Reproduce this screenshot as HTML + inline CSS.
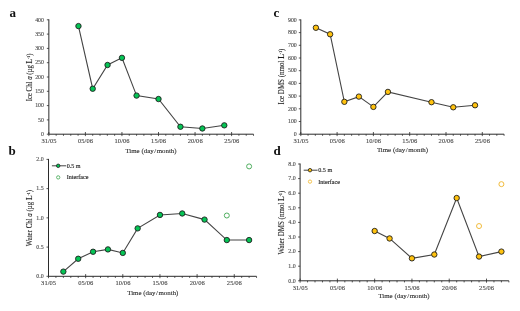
<!DOCTYPE html>
<html><head><meta charset="utf-8"><title>Figure</title>
<style>
html,body{margin:0;padding:0;background:#fff;}
body{width:520px;height:311px;overflow:hidden;}
svg{display:block;will-change:transform;}
text{font-family:"Liberation Serif", serif;fill:#222;}
.yl{stroke:#333;stroke-width:0.1px;}
.lg{stroke:#333;stroke-width:0.15px;}
.ti{stroke:#444;stroke-width:0.1px;}
.tk,.tx{stroke:#555;stroke-width:0.12px;}
.tk{font-size:6.7px;fill:#444;}
.ti{font-size:6.9px;fill:#1a1a1a;}
.yl{fill:#1a1a1a;}
.lg{font-size:6.1px;fill:#222;}
.tx{font-size:6.5px;fill:#444;letter-spacing:0.05px;}
.pl{font-size:13px;font-weight:bold;fill:#111;}
</style></head>
<body>
<svg width="520" height="311" viewBox="0 0 520 311">
<rect width="520" height="311" fill="#fff"/>
<text x="9.6" y="16.8" class="pl">a</text>
<line x1="48.85" y1="19.3" x2="48.85" y2="134.2" stroke="#2b2b2b" stroke-width="1"/>
<line x1="48.85" y1="134.2" x2="253.53" y2="134.2" stroke="#2b2b2b" stroke-width="1"/>
<line x1="46.85" y1="134.2" x2="48.85" y2="134.2" stroke="#2b2b2b" stroke-width="0.8"/>
<text transform="translate(44,135.95) scale(0.88,1)" class="tk" text-anchor="end">0</text>
<line x1="46.85" y1="119.9" x2="48.85" y2="119.9" stroke="#2b2b2b" stroke-width="0.8"/>
<text transform="translate(44,121.65) scale(0.88,1)" class="tk" text-anchor="end">50</text>
<line x1="46.85" y1="105.6" x2="48.85" y2="105.6" stroke="#2b2b2b" stroke-width="0.8"/>
<text transform="translate(44,107.35) scale(0.88,1)" class="tk" text-anchor="end">100</text>
<line x1="46.85" y1="91.3" x2="48.85" y2="91.3" stroke="#2b2b2b" stroke-width="0.8"/>
<text transform="translate(44,93.05) scale(0.88,1)" class="tk" text-anchor="end">150</text>
<line x1="46.85" y1="77" x2="48.85" y2="77" stroke="#2b2b2b" stroke-width="0.8"/>
<text transform="translate(44,78.75) scale(0.88,1)" class="tk" text-anchor="end">200</text>
<line x1="46.85" y1="62.7" x2="48.85" y2="62.7" stroke="#2b2b2b" stroke-width="0.8"/>
<text transform="translate(44,64.45) scale(0.88,1)" class="tk" text-anchor="end">250</text>
<line x1="46.85" y1="48.4" x2="48.85" y2="48.4" stroke="#2b2b2b" stroke-width="0.8"/>
<text transform="translate(44,50.15) scale(0.88,1)" class="tk" text-anchor="end">300</text>
<line x1="46.85" y1="34.1" x2="48.85" y2="34.1" stroke="#2b2b2b" stroke-width="0.8"/>
<text transform="translate(44,35.85) scale(0.88,1)" class="tk" text-anchor="end">350</text>
<line x1="46.85" y1="19.8" x2="48.85" y2="19.8" stroke="#2b2b2b" stroke-width="0.8"/>
<text transform="translate(44,21.55) scale(0.88,1)" class="tk" text-anchor="end">400</text>
<line x1="48.85" y1="132" x2="48.85" y2="136.1" stroke="#2b2b2b" stroke-width="0.8"/>
<text x="49" y="143.4" class="tx" text-anchor="middle">31/05</text>
<line x1="56.16" y1="134.2" x2="56.16" y2="135.8" stroke="#2b2b2b" stroke-width="0.8"/>
<line x1="63.47" y1="134.2" x2="63.47" y2="135.8" stroke="#2b2b2b" stroke-width="0.8"/>
<line x1="70.78" y1="134.2" x2="70.78" y2="135.8" stroke="#2b2b2b" stroke-width="0.8"/>
<line x1="78.09" y1="134.2" x2="78.09" y2="135.8" stroke="#2b2b2b" stroke-width="0.8"/>
<line x1="85.4" y1="132" x2="85.4" y2="136.1" stroke="#2b2b2b" stroke-width="0.8"/>
<text x="85.55" y="143.4" class="tx" text-anchor="middle">05/06</text>
<line x1="92.71" y1="134.2" x2="92.71" y2="135.8" stroke="#2b2b2b" stroke-width="0.8"/>
<line x1="100.02" y1="134.2" x2="100.02" y2="135.8" stroke="#2b2b2b" stroke-width="0.8"/>
<line x1="107.33" y1="134.2" x2="107.33" y2="135.8" stroke="#2b2b2b" stroke-width="0.8"/>
<line x1="114.64" y1="134.2" x2="114.64" y2="135.8" stroke="#2b2b2b" stroke-width="0.8"/>
<line x1="121.95" y1="132" x2="121.95" y2="136.1" stroke="#2b2b2b" stroke-width="0.8"/>
<text x="122.1" y="143.4" class="tx" text-anchor="middle">10/06</text>
<line x1="129.26" y1="134.2" x2="129.26" y2="135.8" stroke="#2b2b2b" stroke-width="0.8"/>
<line x1="136.57" y1="134.2" x2="136.57" y2="135.8" stroke="#2b2b2b" stroke-width="0.8"/>
<line x1="143.88" y1="134.2" x2="143.88" y2="135.8" stroke="#2b2b2b" stroke-width="0.8"/>
<line x1="151.19" y1="134.2" x2="151.19" y2="135.8" stroke="#2b2b2b" stroke-width="0.8"/>
<line x1="158.5" y1="132" x2="158.5" y2="136.1" stroke="#2b2b2b" stroke-width="0.8"/>
<text x="158.65" y="143.4" class="tx" text-anchor="middle">15/06</text>
<line x1="165.81" y1="134.2" x2="165.81" y2="135.8" stroke="#2b2b2b" stroke-width="0.8"/>
<line x1="173.12" y1="134.2" x2="173.12" y2="135.8" stroke="#2b2b2b" stroke-width="0.8"/>
<line x1="180.43" y1="134.2" x2="180.43" y2="135.8" stroke="#2b2b2b" stroke-width="0.8"/>
<line x1="187.74" y1="134.2" x2="187.74" y2="135.8" stroke="#2b2b2b" stroke-width="0.8"/>
<line x1="195.05" y1="132" x2="195.05" y2="136.1" stroke="#2b2b2b" stroke-width="0.8"/>
<text x="195.2" y="143.4" class="tx" text-anchor="middle">20/06</text>
<line x1="202.36" y1="134.2" x2="202.36" y2="135.8" stroke="#2b2b2b" stroke-width="0.8"/>
<line x1="209.67" y1="134.2" x2="209.67" y2="135.8" stroke="#2b2b2b" stroke-width="0.8"/>
<line x1="216.98" y1="134.2" x2="216.98" y2="135.8" stroke="#2b2b2b" stroke-width="0.8"/>
<line x1="224.29" y1="134.2" x2="224.29" y2="135.8" stroke="#2b2b2b" stroke-width="0.8"/>
<line x1="231.6" y1="132" x2="231.6" y2="136.1" stroke="#2b2b2b" stroke-width="0.8"/>
<text x="231.75" y="143.4" class="tx" text-anchor="middle">25/06</text>
<line x1="238.91" y1="134.2" x2="238.91" y2="135.8" stroke="#2b2b2b" stroke-width="0.8"/>
<line x1="246.22" y1="134.2" x2="246.22" y2="135.8" stroke="#2b2b2b" stroke-width="0.8"/>
<line x1="253.53" y1="134.2" x2="253.53" y2="135.8" stroke="#2b2b2b" stroke-width="0.8"/>
<text x="151" y="152.6" class="ti" text-anchor="middle">Time (day&#8202;/&#8202;month)</text>
<polyline points="78.46,26.09 92.71,88.73 107.55,64.99 121.95,57.84 136.57,95.59 158.5,99.02 180.43,126.76 202.36,128.48 224.29,125.33" fill="none" stroke="#444444" stroke-width="1.1"/>
<circle cx="78.46" cy="26.09" r="2.7" fill="#05c455" stroke="#1e1e1e" stroke-width="0.9"/>
<circle cx="92.71" cy="88.73" r="2.7" fill="#05c455" stroke="#1e1e1e" stroke-width="0.9"/>
<circle cx="107.55" cy="64.99" r="2.7" fill="#05c455" stroke="#1e1e1e" stroke-width="0.9"/>
<circle cx="121.95" cy="57.84" r="2.7" fill="#05c455" stroke="#1e1e1e" stroke-width="0.9"/>
<circle cx="136.57" cy="95.59" r="2.7" fill="#05c455" stroke="#1e1e1e" stroke-width="0.9"/>
<circle cx="158.5" cy="99.02" r="2.7" fill="#05c455" stroke="#1e1e1e" stroke-width="0.9"/>
<circle cx="180.43" cy="126.76" r="2.7" fill="#05c455" stroke="#1e1e1e" stroke-width="0.9"/>
<circle cx="202.36" cy="128.48" r="2.7" fill="#05c455" stroke="#1e1e1e" stroke-width="0.9"/>
<circle cx="224.29" cy="125.33" r="2.7" fill="#05c455" stroke="#1e1e1e" stroke-width="0.9"/>
<text transform="translate(31.8,77.4) rotate(-90) scale(0.87,1)" class="yl" text-anchor="middle" font-size="7.82">Ice Chl <tspan font-style="italic">a</tspan> (µg <tspan font-weight="bold">L</tspan><tspan dy="-2" font-size="4.5">-1</tspan><tspan dy="2">)</tspan></text>
<text x="8.6" y="155.2" class="pl">b</text>
<line x1="48.5" y1="158.9" x2="48.5" y2="276.3" stroke="#2b2b2b" stroke-width="1"/>
<line x1="48.5" y1="276.3" x2="256.54" y2="276.3" stroke="#2b2b2b" stroke-width="1"/>
<line x1="46.5" y1="276.3" x2="48.5" y2="276.3" stroke="#2b2b2b" stroke-width="0.8"/>
<text transform="translate(43.6,278.05) scale(0.88,1)" class="tk" text-anchor="end">0.0</text>
<line x1="46.5" y1="247.08" x2="48.5" y2="247.08" stroke="#2b2b2b" stroke-width="0.8"/>
<text transform="translate(43.6,248.83) scale(0.88,1)" class="tk" text-anchor="end">0.5</text>
<line x1="46.5" y1="217.85" x2="48.5" y2="217.85" stroke="#2b2b2b" stroke-width="0.8"/>
<text transform="translate(43.6,219.6) scale(0.88,1)" class="tk" text-anchor="end">1.0</text>
<line x1="46.5" y1="188.62" x2="48.5" y2="188.62" stroke="#2b2b2b" stroke-width="0.8"/>
<text transform="translate(43.6,190.38) scale(0.88,1)" class="tk" text-anchor="end">1.5</text>
<line x1="46.5" y1="159.4" x2="48.5" y2="159.4" stroke="#2b2b2b" stroke-width="0.8"/>
<text transform="translate(43.6,161.15) scale(0.88,1)" class="tk" text-anchor="end">2.0</text>
<line x1="48.5" y1="274.1" x2="48.5" y2="278.2" stroke="#2b2b2b" stroke-width="0.8"/>
<text x="48.65" y="285.2" class="tx" text-anchor="middle">31/05</text>
<line x1="55.93" y1="276.3" x2="55.93" y2="277.9" stroke="#2b2b2b" stroke-width="0.8"/>
<line x1="63.36" y1="276.3" x2="63.36" y2="277.9" stroke="#2b2b2b" stroke-width="0.8"/>
<line x1="70.79" y1="276.3" x2="70.79" y2="277.9" stroke="#2b2b2b" stroke-width="0.8"/>
<line x1="78.22" y1="276.3" x2="78.22" y2="277.9" stroke="#2b2b2b" stroke-width="0.8"/>
<line x1="85.65" y1="274.1" x2="85.65" y2="278.2" stroke="#2b2b2b" stroke-width="0.8"/>
<text x="85.8" y="285.2" class="tx" text-anchor="middle">05/06</text>
<line x1="93.08" y1="276.3" x2="93.08" y2="277.9" stroke="#2b2b2b" stroke-width="0.8"/>
<line x1="100.51" y1="276.3" x2="100.51" y2="277.9" stroke="#2b2b2b" stroke-width="0.8"/>
<line x1="107.94" y1="276.3" x2="107.94" y2="277.9" stroke="#2b2b2b" stroke-width="0.8"/>
<line x1="115.37" y1="276.3" x2="115.37" y2="277.9" stroke="#2b2b2b" stroke-width="0.8"/>
<line x1="122.8" y1="274.1" x2="122.8" y2="278.2" stroke="#2b2b2b" stroke-width="0.8"/>
<text x="122.95" y="285.2" class="tx" text-anchor="middle">10/06</text>
<line x1="130.23" y1="276.3" x2="130.23" y2="277.9" stroke="#2b2b2b" stroke-width="0.8"/>
<line x1="137.66" y1="276.3" x2="137.66" y2="277.9" stroke="#2b2b2b" stroke-width="0.8"/>
<line x1="145.09" y1="276.3" x2="145.09" y2="277.9" stroke="#2b2b2b" stroke-width="0.8"/>
<line x1="152.52" y1="276.3" x2="152.52" y2="277.9" stroke="#2b2b2b" stroke-width="0.8"/>
<line x1="159.95" y1="274.1" x2="159.95" y2="278.2" stroke="#2b2b2b" stroke-width="0.8"/>
<text x="160.1" y="285.2" class="tx" text-anchor="middle">15/06</text>
<line x1="167.38" y1="276.3" x2="167.38" y2="277.9" stroke="#2b2b2b" stroke-width="0.8"/>
<line x1="174.81" y1="276.3" x2="174.81" y2="277.9" stroke="#2b2b2b" stroke-width="0.8"/>
<line x1="182.24" y1="276.3" x2="182.24" y2="277.9" stroke="#2b2b2b" stroke-width="0.8"/>
<line x1="189.67" y1="276.3" x2="189.67" y2="277.9" stroke="#2b2b2b" stroke-width="0.8"/>
<line x1="197.1" y1="274.1" x2="197.1" y2="278.2" stroke="#2b2b2b" stroke-width="0.8"/>
<text x="197.25" y="285.2" class="tx" text-anchor="middle">20/06</text>
<line x1="204.53" y1="276.3" x2="204.53" y2="277.9" stroke="#2b2b2b" stroke-width="0.8"/>
<line x1="211.96" y1="276.3" x2="211.96" y2="277.9" stroke="#2b2b2b" stroke-width="0.8"/>
<line x1="219.39" y1="276.3" x2="219.39" y2="277.9" stroke="#2b2b2b" stroke-width="0.8"/>
<line x1="226.82" y1="276.3" x2="226.82" y2="277.9" stroke="#2b2b2b" stroke-width="0.8"/>
<line x1="234.25" y1="274.1" x2="234.25" y2="278.2" stroke="#2b2b2b" stroke-width="0.8"/>
<text x="234.4" y="285.2" class="tx" text-anchor="middle">25/06</text>
<line x1="241.68" y1="276.3" x2="241.68" y2="277.9" stroke="#2b2b2b" stroke-width="0.8"/>
<line x1="249.11" y1="276.3" x2="249.11" y2="277.9" stroke="#2b2b2b" stroke-width="0.8"/>
<line x1="256.54" y1="276.3" x2="256.54" y2="277.9" stroke="#2b2b2b" stroke-width="0.8"/>
<text x="152.8" y="294.6" class="ti" text-anchor="middle">Time (day&#8202;/&#8202;month)</text>
<polyline points="63.36,271.62 78.22,258.76 93.08,251.75 107.94,249.41 122.8,252.92 137.66,228.37 159.95,214.93 182.24,213.47 204.53,219.6 226.82,240.06 249.11,240.06" fill="none" stroke="#444444" stroke-width="1.1"/>
<circle cx="63.36" cy="271.62" r="2.7" fill="#05c455" stroke="#1e1e1e" stroke-width="0.9"/>
<circle cx="78.22" cy="258.76" r="2.7" fill="#05c455" stroke="#1e1e1e" stroke-width="0.9"/>
<circle cx="93.08" cy="251.75" r="2.7" fill="#05c455" stroke="#1e1e1e" stroke-width="0.9"/>
<circle cx="107.94" cy="249.41" r="2.7" fill="#05c455" stroke="#1e1e1e" stroke-width="0.9"/>
<circle cx="122.8" cy="252.92" r="2.7" fill="#05c455" stroke="#1e1e1e" stroke-width="0.9"/>
<circle cx="137.66" cy="228.37" r="2.7" fill="#05c455" stroke="#1e1e1e" stroke-width="0.9"/>
<circle cx="159.95" cy="214.93" r="2.7" fill="#05c455" stroke="#1e1e1e" stroke-width="0.9"/>
<circle cx="182.24" cy="213.47" r="2.7" fill="#05c455" stroke="#1e1e1e" stroke-width="0.9"/>
<circle cx="204.53" cy="219.6" r="2.7" fill="#05c455" stroke="#1e1e1e" stroke-width="0.9"/>
<circle cx="226.82" cy="240.06" r="2.7" fill="#05c455" stroke="#1e1e1e" stroke-width="0.9"/>
<circle cx="249.11" cy="240.06" r="2.7" fill="#05c455" stroke="#1e1e1e" stroke-width="0.9"/>
<circle cx="226.82" cy="215.51" r="2.5" fill="none" stroke="#4fae5f" stroke-width="1"/>
<circle cx="249.11" cy="166.41" r="2.5" fill="none" stroke="#4fae5f" stroke-width="1"/>
<line x1="51.9" y1="165.8" x2="66.2" y2="165.8" stroke="#444444" stroke-width="1"/>
<circle cx="58.2" cy="165.8" r="1.75" fill="#05c455" stroke="#1e1e1e" stroke-width="0.8"/>
<text x="66.7" y="167.8" class="lg">0.5 m</text>
<circle cx="58.2" cy="177.4" r="1.65" fill="none" stroke="#4fae5f" stroke-width="0.9"/>
<text x="66.7" y="179.4" class="lg">Interface</text>
<text transform="translate(32.2,218.1) rotate(-90) scale(0.87,1)" class="yl" text-anchor="middle" font-size="7.93">Water Chl <tspan font-style="italic">a</tspan> (µg <tspan font-weight="bold">L</tspan><tspan dy="-2" font-size="4.5">-1</tspan><tspan dy="2">)</tspan></text>
<text x="273.6" y="16.8" class="pl">c</text>
<line x1="300.8" y1="19.4" x2="300.8" y2="134.2" stroke="#2b2b2b" stroke-width="1"/>
<line x1="300.8" y1="134.2" x2="504.08" y2="134.2" stroke="#2b2b2b" stroke-width="1"/>
<line x1="298.8" y1="134.2" x2="300.8" y2="134.2" stroke="#2b2b2b" stroke-width="0.8"/>
<text transform="translate(296.8,135.95) scale(0.88,1)" class="tk" text-anchor="end">0</text>
<line x1="298.8" y1="121.5" x2="300.8" y2="121.5" stroke="#2b2b2b" stroke-width="0.8"/>
<text transform="translate(296.8,123.25) scale(0.88,1)" class="tk" text-anchor="end">100</text>
<line x1="298.8" y1="108.8" x2="300.8" y2="108.8" stroke="#2b2b2b" stroke-width="0.8"/>
<text transform="translate(296.8,110.55) scale(0.88,1)" class="tk" text-anchor="end">200</text>
<line x1="298.8" y1="96.1" x2="300.8" y2="96.1" stroke="#2b2b2b" stroke-width="0.8"/>
<text transform="translate(296.8,97.85) scale(0.88,1)" class="tk" text-anchor="end">300</text>
<line x1="298.8" y1="83.4" x2="300.8" y2="83.4" stroke="#2b2b2b" stroke-width="0.8"/>
<text transform="translate(296.8,85.15) scale(0.88,1)" class="tk" text-anchor="end">400</text>
<line x1="298.8" y1="70.7" x2="300.8" y2="70.7" stroke="#2b2b2b" stroke-width="0.8"/>
<text transform="translate(296.8,72.45) scale(0.88,1)" class="tk" text-anchor="end">500</text>
<line x1="298.8" y1="58" x2="300.8" y2="58" stroke="#2b2b2b" stroke-width="0.8"/>
<text transform="translate(296.8,59.75) scale(0.88,1)" class="tk" text-anchor="end">600</text>
<line x1="298.8" y1="45.3" x2="300.8" y2="45.3" stroke="#2b2b2b" stroke-width="0.8"/>
<text transform="translate(296.8,47.05) scale(0.88,1)" class="tk" text-anchor="end">700</text>
<line x1="298.8" y1="32.6" x2="300.8" y2="32.6" stroke="#2b2b2b" stroke-width="0.8"/>
<text transform="translate(296.8,34.35) scale(0.88,1)" class="tk" text-anchor="end">800</text>
<line x1="298.8" y1="19.9" x2="300.8" y2="19.9" stroke="#2b2b2b" stroke-width="0.8"/>
<text transform="translate(296.8,21.65) scale(0.88,1)" class="tk" text-anchor="end">900</text>
<line x1="300.8" y1="132" x2="300.8" y2="136.1" stroke="#2b2b2b" stroke-width="0.8"/>
<text x="300.95" y="143.4" class="tx" text-anchor="middle">31/05</text>
<line x1="308.06" y1="134.2" x2="308.06" y2="135.8" stroke="#2b2b2b" stroke-width="0.8"/>
<line x1="315.32" y1="134.2" x2="315.32" y2="135.8" stroke="#2b2b2b" stroke-width="0.8"/>
<line x1="322.58" y1="134.2" x2="322.58" y2="135.8" stroke="#2b2b2b" stroke-width="0.8"/>
<line x1="329.84" y1="134.2" x2="329.84" y2="135.8" stroke="#2b2b2b" stroke-width="0.8"/>
<line x1="337.1" y1="132" x2="337.1" y2="136.1" stroke="#2b2b2b" stroke-width="0.8"/>
<text x="337.25" y="143.4" class="tx" text-anchor="middle">05/06</text>
<line x1="344.36" y1="134.2" x2="344.36" y2="135.8" stroke="#2b2b2b" stroke-width="0.8"/>
<line x1="351.62" y1="134.2" x2="351.62" y2="135.8" stroke="#2b2b2b" stroke-width="0.8"/>
<line x1="358.88" y1="134.2" x2="358.88" y2="135.8" stroke="#2b2b2b" stroke-width="0.8"/>
<line x1="366.14" y1="134.2" x2="366.14" y2="135.8" stroke="#2b2b2b" stroke-width="0.8"/>
<line x1="373.4" y1="132" x2="373.4" y2="136.1" stroke="#2b2b2b" stroke-width="0.8"/>
<text x="373.55" y="143.4" class="tx" text-anchor="middle">10/06</text>
<line x1="380.66" y1="134.2" x2="380.66" y2="135.8" stroke="#2b2b2b" stroke-width="0.8"/>
<line x1="387.92" y1="134.2" x2="387.92" y2="135.8" stroke="#2b2b2b" stroke-width="0.8"/>
<line x1="395.18" y1="134.2" x2="395.18" y2="135.8" stroke="#2b2b2b" stroke-width="0.8"/>
<line x1="402.44" y1="134.2" x2="402.44" y2="135.8" stroke="#2b2b2b" stroke-width="0.8"/>
<line x1="409.7" y1="132" x2="409.7" y2="136.1" stroke="#2b2b2b" stroke-width="0.8"/>
<text x="409.85" y="143.4" class="tx" text-anchor="middle">15/06</text>
<line x1="416.96" y1="134.2" x2="416.96" y2="135.8" stroke="#2b2b2b" stroke-width="0.8"/>
<line x1="424.22" y1="134.2" x2="424.22" y2="135.8" stroke="#2b2b2b" stroke-width="0.8"/>
<line x1="431.48" y1="134.2" x2="431.48" y2="135.8" stroke="#2b2b2b" stroke-width="0.8"/>
<line x1="438.74" y1="134.2" x2="438.74" y2="135.8" stroke="#2b2b2b" stroke-width="0.8"/>
<line x1="446" y1="132" x2="446" y2="136.1" stroke="#2b2b2b" stroke-width="0.8"/>
<text x="446.15" y="143.4" class="tx" text-anchor="middle">20/06</text>
<line x1="453.26" y1="134.2" x2="453.26" y2="135.8" stroke="#2b2b2b" stroke-width="0.8"/>
<line x1="460.52" y1="134.2" x2="460.52" y2="135.8" stroke="#2b2b2b" stroke-width="0.8"/>
<line x1="467.78" y1="134.2" x2="467.78" y2="135.8" stroke="#2b2b2b" stroke-width="0.8"/>
<line x1="475.04" y1="134.2" x2="475.04" y2="135.8" stroke="#2b2b2b" stroke-width="0.8"/>
<line x1="482.3" y1="132" x2="482.3" y2="136.1" stroke="#2b2b2b" stroke-width="0.8"/>
<text x="482.45" y="143.4" class="tx" text-anchor="middle">25/06</text>
<line x1="489.56" y1="134.2" x2="489.56" y2="135.8" stroke="#2b2b2b" stroke-width="0.8"/>
<line x1="496.82" y1="134.2" x2="496.82" y2="135.8" stroke="#2b2b2b" stroke-width="0.8"/>
<line x1="504.08" y1="134.2" x2="504.08" y2="135.8" stroke="#2b2b2b" stroke-width="0.8"/>
<text x="402.5" y="152.3" class="ti" text-anchor="middle">Time (day&#8202;/&#8202;month)</text>
<polyline points="315.9,27.77 330.13,34.25 344.36,101.81 358.88,96.61 373.4,106.89 387.92,91.91 431.48,102.2 453.26,107.28 475.04,105.24" fill="none" stroke="#444444" stroke-width="1.1"/>
<circle cx="315.9" cy="27.77" r="2.7" fill="#ffc20e" stroke="#1e1e1e" stroke-width="0.9"/>
<circle cx="330.13" cy="34.25" r="2.7" fill="#ffc20e" stroke="#1e1e1e" stroke-width="0.9"/>
<circle cx="344.36" cy="101.81" r="2.7" fill="#ffc20e" stroke="#1e1e1e" stroke-width="0.9"/>
<circle cx="358.88" cy="96.61" r="2.7" fill="#ffc20e" stroke="#1e1e1e" stroke-width="0.9"/>
<circle cx="373.4" cy="106.89" r="2.7" fill="#ffc20e" stroke="#1e1e1e" stroke-width="0.9"/>
<circle cx="387.92" cy="91.91" r="2.7" fill="#ffc20e" stroke="#1e1e1e" stroke-width="0.9"/>
<circle cx="431.48" cy="102.2" r="2.7" fill="#ffc20e" stroke="#1e1e1e" stroke-width="0.9"/>
<circle cx="453.26" cy="107.28" r="2.7" fill="#ffc20e" stroke="#1e1e1e" stroke-width="0.9"/>
<circle cx="475.04" cy="105.24" r="2.7" fill="#ffc20e" stroke="#1e1e1e" stroke-width="0.9"/>
<text transform="translate(284.4,76.5) rotate(-90) scale(0.87,1)" class="yl" text-anchor="middle" font-size="8.05">Ice DMS (nmol <tspan font-weight="bold">L</tspan><tspan dy="-2" font-size="4.5">-1</tspan><tspan dy="2">)</tspan></text>
<text x="273.4" y="154.9" class="pl">d</text>
<line x1="300.1" y1="163.5" x2="300.1" y2="280.8" stroke="#2b2b2b" stroke-width="1"/>
<line x1="300.1" y1="280.8" x2="508.87" y2="280.8" stroke="#2b2b2b" stroke-width="1"/>
<line x1="298.1" y1="280.8" x2="300.1" y2="280.8" stroke="#2b2b2b" stroke-width="0.8"/>
<text transform="translate(295.6,282.55) scale(0.88,1)" class="tk" text-anchor="end">0.0</text>
<line x1="298.1" y1="266.2" x2="300.1" y2="266.2" stroke="#2b2b2b" stroke-width="0.8"/>
<text transform="translate(295.6,267.95) scale(0.88,1)" class="tk" text-anchor="end">1.0</text>
<line x1="298.1" y1="251.6" x2="300.1" y2="251.6" stroke="#2b2b2b" stroke-width="0.8"/>
<text transform="translate(295.6,253.35) scale(0.88,1)" class="tk" text-anchor="end">2.0</text>
<line x1="298.1" y1="237" x2="300.1" y2="237" stroke="#2b2b2b" stroke-width="0.8"/>
<text transform="translate(295.6,238.75) scale(0.88,1)" class="tk" text-anchor="end">3.0</text>
<line x1="298.1" y1="222.4" x2="300.1" y2="222.4" stroke="#2b2b2b" stroke-width="0.8"/>
<text transform="translate(295.6,224.15) scale(0.88,1)" class="tk" text-anchor="end">4.0</text>
<line x1="298.1" y1="207.8" x2="300.1" y2="207.8" stroke="#2b2b2b" stroke-width="0.8"/>
<text transform="translate(295.6,209.55) scale(0.88,1)" class="tk" text-anchor="end">5.0</text>
<line x1="298.1" y1="193.2" x2="300.1" y2="193.2" stroke="#2b2b2b" stroke-width="0.8"/>
<text transform="translate(295.6,194.95) scale(0.88,1)" class="tk" text-anchor="end">6.0</text>
<line x1="298.1" y1="178.6" x2="300.1" y2="178.6" stroke="#2b2b2b" stroke-width="0.8"/>
<text transform="translate(295.6,180.35) scale(0.88,1)" class="tk" text-anchor="end">7.0</text>
<line x1="298.1" y1="164" x2="300.1" y2="164" stroke="#2b2b2b" stroke-width="0.8"/>
<text transform="translate(295.6,165.75) scale(0.88,1)" class="tk" text-anchor="end">8.0</text>
<line x1="300.1" y1="278.6" x2="300.1" y2="282.7" stroke="#2b2b2b" stroke-width="0.8"/>
<text x="300.25" y="289.6" class="tx" text-anchor="middle">31/05</text>
<line x1="307.56" y1="280.8" x2="307.56" y2="282.4" stroke="#2b2b2b" stroke-width="0.8"/>
<line x1="315.01" y1="280.8" x2="315.01" y2="282.4" stroke="#2b2b2b" stroke-width="0.8"/>
<line x1="322.47" y1="280.8" x2="322.47" y2="282.4" stroke="#2b2b2b" stroke-width="0.8"/>
<line x1="329.92" y1="280.8" x2="329.92" y2="282.4" stroke="#2b2b2b" stroke-width="0.8"/>
<line x1="337.38" y1="278.6" x2="337.38" y2="282.7" stroke="#2b2b2b" stroke-width="0.8"/>
<text x="337.53" y="289.6" class="tx" text-anchor="middle">05/06</text>
<line x1="344.84" y1="280.8" x2="344.84" y2="282.4" stroke="#2b2b2b" stroke-width="0.8"/>
<line x1="352.29" y1="280.8" x2="352.29" y2="282.4" stroke="#2b2b2b" stroke-width="0.8"/>
<line x1="359.75" y1="280.8" x2="359.75" y2="282.4" stroke="#2b2b2b" stroke-width="0.8"/>
<line x1="367.2" y1="280.8" x2="367.2" y2="282.4" stroke="#2b2b2b" stroke-width="0.8"/>
<line x1="374.66" y1="278.6" x2="374.66" y2="282.7" stroke="#2b2b2b" stroke-width="0.8"/>
<text x="374.81" y="289.6" class="tx" text-anchor="middle">10/06</text>
<line x1="382.12" y1="280.8" x2="382.12" y2="282.4" stroke="#2b2b2b" stroke-width="0.8"/>
<line x1="389.57" y1="280.8" x2="389.57" y2="282.4" stroke="#2b2b2b" stroke-width="0.8"/>
<line x1="397.03" y1="280.8" x2="397.03" y2="282.4" stroke="#2b2b2b" stroke-width="0.8"/>
<line x1="404.48" y1="280.8" x2="404.48" y2="282.4" stroke="#2b2b2b" stroke-width="0.8"/>
<line x1="411.94" y1="278.6" x2="411.94" y2="282.7" stroke="#2b2b2b" stroke-width="0.8"/>
<text x="412.09" y="289.6" class="tx" text-anchor="middle">15/06</text>
<line x1="419.4" y1="280.8" x2="419.4" y2="282.4" stroke="#2b2b2b" stroke-width="0.8"/>
<line x1="426.85" y1="280.8" x2="426.85" y2="282.4" stroke="#2b2b2b" stroke-width="0.8"/>
<line x1="434.31" y1="280.8" x2="434.31" y2="282.4" stroke="#2b2b2b" stroke-width="0.8"/>
<line x1="441.76" y1="280.8" x2="441.76" y2="282.4" stroke="#2b2b2b" stroke-width="0.8"/>
<line x1="449.22" y1="278.6" x2="449.22" y2="282.7" stroke="#2b2b2b" stroke-width="0.8"/>
<text x="449.37" y="289.6" class="tx" text-anchor="middle">20/06</text>
<line x1="456.68" y1="280.8" x2="456.68" y2="282.4" stroke="#2b2b2b" stroke-width="0.8"/>
<line x1="464.13" y1="280.8" x2="464.13" y2="282.4" stroke="#2b2b2b" stroke-width="0.8"/>
<line x1="471.59" y1="280.8" x2="471.59" y2="282.4" stroke="#2b2b2b" stroke-width="0.8"/>
<line x1="479.04" y1="280.8" x2="479.04" y2="282.4" stroke="#2b2b2b" stroke-width="0.8"/>
<line x1="486.5" y1="278.6" x2="486.5" y2="282.7" stroke="#2b2b2b" stroke-width="0.8"/>
<text x="486.65" y="289.6" class="tx" text-anchor="middle">25/06</text>
<line x1="493.96" y1="280.8" x2="493.96" y2="282.4" stroke="#2b2b2b" stroke-width="0.8"/>
<line x1="501.41" y1="280.8" x2="501.41" y2="282.4" stroke="#2b2b2b" stroke-width="0.8"/>
<line x1="508.87" y1="280.8" x2="508.87" y2="282.4" stroke="#2b2b2b" stroke-width="0.8"/>
<text x="404" y="298.2" class="ti" text-anchor="middle">Time (day&#8202;/&#8202;month)</text>
<polyline points="374.66,231.01 389.57,238.46 411.94,258.32 434.31,254.52 456.68,198.02 479.04,256.56 501.41,251.6" fill="none" stroke="#444444" stroke-width="1.1"/>
<circle cx="374.66" cy="231.01" r="2.7" fill="#ffc20e" stroke="#1e1e1e" stroke-width="0.9"/>
<circle cx="389.57" cy="238.46" r="2.7" fill="#ffc20e" stroke="#1e1e1e" stroke-width="0.9"/>
<circle cx="411.94" cy="258.32" r="2.7" fill="#ffc20e" stroke="#1e1e1e" stroke-width="0.9"/>
<circle cx="434.31" cy="254.52" r="2.7" fill="#ffc20e" stroke="#1e1e1e" stroke-width="0.9"/>
<circle cx="456.68" cy="198.02" r="2.7" fill="#ffc20e" stroke="#1e1e1e" stroke-width="0.9"/>
<circle cx="479.04" cy="256.56" r="2.7" fill="#ffc20e" stroke="#1e1e1e" stroke-width="0.9"/>
<circle cx="501.41" cy="251.6" r="2.7" fill="#ffc20e" stroke="#1e1e1e" stroke-width="0.9"/>
<circle cx="479.04" cy="226.05" r="2.5" fill="none" stroke="#f2bc3c" stroke-width="1"/>
<circle cx="501.41" cy="184.15" r="2.5" fill="none" stroke="#f2bc3c" stroke-width="1"/>
<line x1="303.7" y1="170.2" x2="317.6" y2="170.2" stroke="#444444" stroke-width="1"/>
<circle cx="310" cy="170.2" r="1.75" fill="#ffc20e" stroke="#1e1e1e" stroke-width="0.8"/>
<text x="318.3" y="172.2" class="lg">0.5 m</text>
<circle cx="310" cy="181.6" r="1.65" fill="none" stroke="#f2bc3c" stroke-width="0.9"/>
<text x="318.3" y="183.6" class="lg">Interface</text>
<text transform="translate(284.2,222.6) rotate(-90) scale(0.87,1)" class="yl" text-anchor="middle" font-size="8.05">Water DMS (nmol <tspan font-weight="bold">L</tspan><tspan dy="-2" font-size="4.5">-1</tspan><tspan dy="2">)</tspan></text>
</svg>
</body></html>
